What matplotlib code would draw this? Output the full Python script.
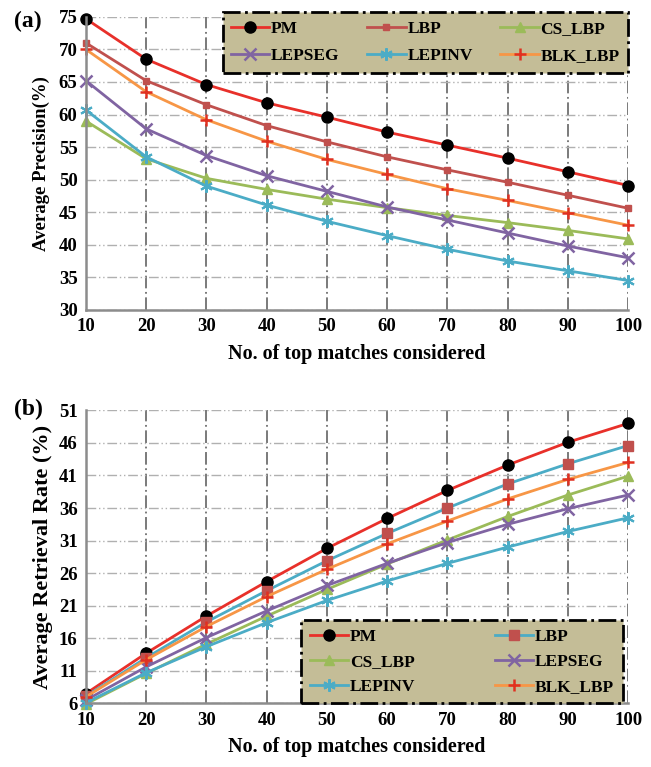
import matplotlib
matplotlib.use('Agg')
import matplotlib.pyplot as plt

# x values: number of top matches
matches = [10, 20, 30, 40, 50, 60, 70, 80, 90, 100]

# (a) average precision (%)
prec_pm = [74.7, 68.5, 64.6, 61.8, 59.6, 57.3, 55.3, 53.3, 51.2, 49.1]
prec_lbp = [71.0, 65.2, 61.5, 58.3, 55.8, 53.5, 51.5, 49.6, 47.6, 45.6]
prec_cslbp = [59.0, 53.2, 50.2, 48.5, 47.0, 45.7, 44.5, 43.4, 42.2, 40.9]
prec_lepseg = [65.2, 57.8, 53.7, 50.6, 48.2, 45.8, 43.8, 41.8, 39.8, 38.0]
prec_lepinv = [60.7, 53.5, 49.0, 46.1, 43.6, 41.4, 39.3, 37.5, 36.0, 34.5]
prec_blk = [70.0, 63.5, 59.2, 55.9, 53.1, 50.8, 48.6, 46.8, 44.9, 43.0]

# (b) average retrieval rate (%)
rr_pm = [7.5, 13.7, 19.4, 24.7, 29.8, 34.4, 38.7, 42.6, 46.1, 49.0]
rr_lbp = [7.1, 13.0, 18.5, 23.3, 27.9, 32.1, 36.0, 39.7, 42.8, 45.6]
rr_cslbp = [5.9, 10.6, 15.1, 19.4, 23.5, 27.4, 31.1, 34.7, 38.0, 40.9]
rr_lepseg = [6.5, 11.6, 16.1, 20.2, 24.1, 27.5, 30.7, 33.5, 35.9, 38.0]
rr_lepinv = [6.1, 10.7, 14.7, 18.4, 21.8, 24.8, 27.5, 30.0, 32.4, 34.5]
rr_blk = [7.0, 12.7, 17.8, 22.4, 26.6, 30.5, 34.0, 37.4, 40.4, 43.0]

plt.rcParams['font.family'] = 'Liberation Serif'
plt.rcParams['font.weight'] = 'bold'

RED = '#E8302A'
BROWN = '#C0504D'
GREEN = '#9BBB59'
PURPLE = '#8064A2'
CYAN = '#4BACC6'
ORANGE = '#F79646'
TAN = '#C4BD97'

fig = plt.figure(figsize=(6.51, 7.67), dpi=100)
ax1 = fig.add_axes([0.132, 0.596, 0.833, 0.382])
ax2 = fig.add_axes([0.132, 0.083, 0.833, 0.382])


def style_axes(ax):
    ax.set_xlim(10, 100)
    ax.set_xticks(matches)
    for s in ['top', 'right']:
        ax.spines[s].set_visible(False)
    for s in ['left', 'bottom']:
        ax.spines[s].set_color('#8C8C8C')
        ax.spines[s].set_linewidth(1.8)
    ax.xaxis.grid(True, color='#707070', linestyle=(0, (7, 2, 1, 2)), linewidth=1.3)
    ax.yaxis.grid(True, color='#B0B0B0', linestyle=(0, (7, 2, 1, 2, 1, 2)), linewidth=1.0)
    ax.set_axisbelow(True)
    ax.tick_params(length=0, labelsize=13.5, pad=6)
    for lab in ax.get_xticklabels() + ax.get_yticklabels():
        lab.set_fontweight('bold')
    ax.set_xlabel('No. of top matches considered', fontsize=14.5, fontweight='bold', labelpad=6)


def style_legend(leg):
    fr = leg.get_frame()
    fr.set_facecolor(TAN)
    fr.set_edgecolor('black')
    fr.set_linewidth(2)
    fr.set_linestyle('-.')
    fr.set_alpha(1)
    for t in leg.get_texts():
        t.set_fontweight('bold')


# ---- (a) precision ----
a_pm, = ax1.plot(matches, prec_pm, color=RED, lw=2, marker='o', ms=8, mfc='black', mec='black', label='PM', clip_on=False)
a_lbp, = ax1.plot(matches, prec_lbp, color=BROWN, lw=2, marker='s', ms=5, label='LBP', clip_on=False)
a_cs, = ax1.plot(matches, prec_cslbp, color=GREEN, lw=2, marker='^', ms=7, label='CS_LBP', clip_on=False)
a_seg, = ax1.plot(matches, prec_lepseg, color=PURPLE, lw=2, marker='x', ms=8, mew=1.8, label='LEPSEG', clip_on=False)
a_inv, = ax1.plot(matches, prec_lepinv, color=CYAN, lw=2, marker=(6, 2, 0), ms=9, mew=1.5, label='LEPINV', clip_on=False)
a_blk, = ax1.plot(matches, prec_blk, color=ORANGE, lw=2, marker='+', ms=9, mew=1.8, mec='#E03020', label='BLK_LBP', clip_on=False)
ax1.set_ylim(30, 75)
ax1.set_yticks(range(30, 76, 5))
ax1.set_ylabel('Average Precision(%)', fontsize=13.5, fontweight='bold', labelpad=6)
style_axes(ax1)
# column-major order so rows read PM, LBP, CS_LBP / LEPSEG, LEPINV, BLK_LBP
h1 = [a_pm, a_seg, a_lbp, a_inv, a_cs, a_blk]
leg1 = ax1.legend(h1, [h.get_label() for h in h1], loc='upper right', ncol=3,
                  bbox_to_anchor=(1.0, 1.015), fontsize=12.5,
                  fancybox=False, borderaxespad=0, handlelength=2.2, columnspacing=1.6,
                  handletextpad=0.1, borderpad=0.5, labelspacing=0.6)
style_legend(leg1)
fig.text(0.022, 0.972, '(a)', fontsize=17, fontweight='bold', va='center')

# ---- (b) retrieval rate ----
b_pm, = ax2.plot(matches, rr_pm, color=RED, lw=2, marker='o', ms=8, mfc='black', mec='black', label='PM', clip_on=False)
b_lbp, = ax2.plot(matches, rr_lbp, color=CYAN, lw=2, marker='s', ms=7, mfc=BROWN, mec=BROWN, label='LBP', clip_on=False)
b_cs, = ax2.plot(matches, rr_cslbp, color=GREEN, lw=2, marker='^', ms=7, label='CS_LBP', clip_on=False)
b_seg, = ax2.plot(matches, rr_lepseg, color=PURPLE, lw=2, marker='x', ms=8, mew=1.8, label='LEPSEG', clip_on=False)
b_inv, = ax2.plot(matches, rr_lepinv, color=CYAN, lw=2, marker=(6, 2, 0), ms=9, mew=1.5, label='LEPINV', clip_on=False)
b_blk, = ax2.plot(matches, rr_blk, color=ORANGE, lw=2, marker='+', ms=9, mew=1.8, mec='#E03020', label='BLK_LBP', clip_on=False)
ax2.set_ylim(6, 51)
ax2.set_yticks(range(6, 52, 5))
ax2.set_ylabel('Average Retrieval Rate (%)', fontsize=16, fontweight='bold', labelpad=4)
style_axes(ax2)
h2 = [b_pm, b_cs, b_inv, b_lbp, b_seg, b_blk]
leg2 = ax2.legend(h2, [h.get_label() for h in h2], loc='lower right', ncol=2,
                  bbox_to_anchor=(0.99, 0.0), fontsize=12.5,
                  fancybox=False, borderaxespad=0, handlelength=2.2, columnspacing=4.6,
                  handletextpad=0.1, borderpad=0.5, labelspacing=0.5)
style_legend(leg2)
fig.text(0.022, 0.466, '(b)', fontsize=17, fontweight='bold', va='center')

fig.savefig('out.png', dpi=100)
